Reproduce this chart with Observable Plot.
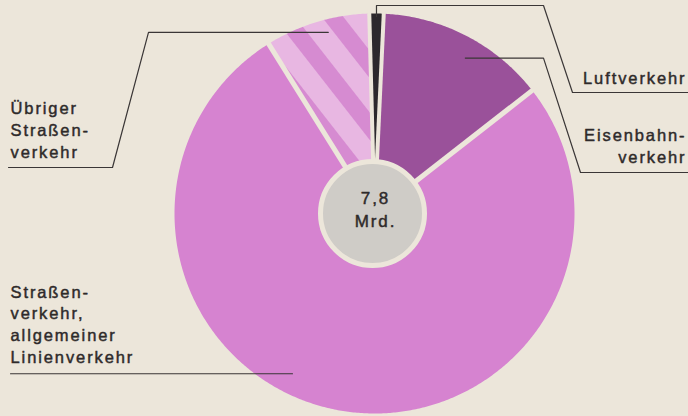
<!DOCTYPE html>
<html><head><meta charset="utf-8">
<script src="https://cdn.jsdelivr.net/npm/d3@7"></script>
<script src="https://cdn.jsdelivr.net/npm/@observablehq/plot@0.6"></script>
<style>
html,body{margin:0;padding:0;background:#ece6da;}
#chart{width:688px;height:416px;overflow:hidden;}
#chart svg text{letter-spacing:1.9px;}
</style></head><body><div id="chart"></div>
<script>
// ---- data ----
const categories = ["Luftverkehr", "Eisenbahnverkehr", "Straßenverkehr, allgemeiner Linienverkehr", "Übriger Straßenverkehr"];
const values = [0.09, 1.07, 5.98, 0.66]; // Mrd. Personen
const totalLabel = "7,8";
const unitLabel = "Mrd.";
const labelLines = [["Luftverkehr"], ["Eisenbahn-", "verkehr"], ["Straßen-", "verkehr,", "allgemeiner", "Linienverkehr"], ["Übriger", "Straßen-", "verkehr"]];

// ---- styling / layout ----
const W = 688, H = 416, cx = 374, cy = 213, R = 200, holeR = 52;
const bg = "#ece6da";
const colors = ["#2c282d", "#9a519a", "#d683d0", "url(#stripes)"];
const startAngle = -1.5;
const textColor = "#2e2a2a";
const lineColor = "#3a3636";
const font = "Liberation Sans, Arial, Helvetica, sans-serif";
const fs = 16.5;

const rad = d => d * Math.PI / 180;
const polar = (deg, r) => ({x: cx + r * Math.sin(rad(deg)), y: cy - r * Math.cos(rad(deg))});

const total = d3.sum(values);
let acc = startAngle;
const slices = categories.map((name, i) => {
  const a0 = acc, a1 = acc + values[i] / total * 360;
  acc = a1;
  return {name, a0, a1, mid: (a0 + a1) / 2, color: colors[i], i};
});

function wedge(s) {
  const pts = [{name: s.name, x: cx, y: cy}];
  const n = Math.max(2, Math.ceil((s.a1 - s.a0) / 0.5));
  for (let k = 0; k <= n; k++) {
    const p = polar(s.a0 + (s.a1 - s.a0) * k / n, R);
    pts.push({name: s.name, ...p});
  }
  pts.push({name: s.name, x: cx, y: cy});
  return pts;
}

// gap lines along the slice boundaries
const gaps = slices.map((s, i) => {
  const p = polar(s.a0, R + 5);
  const thin = i === 0 || i === 1; // edges of the tiny Luftverkehr slice
  return {x1: cx, y1: cy, x2: p.x, y2: p.y, w: thin ? 4 : 5};
});

// leader lines
const leaderSpec = [
  {start: polar(slices[0].mid, 197), rest: s => [[s.x, 5], [543, 5], [572, 92], [688, 92]]},
  {start: polar(30.3, 180), rest: s => [[543, s.y], [580, 172], [688, 172]]},
  {start: polar(207.1, 180), rest: s => [[10, s.y]]},
  {start: polar(-14.3, 187), rest: s => [[148, s.y], [112, 167], [8, 167]]}
];
const leaders = leaderSpec.flatMap((l, i) => [
  {name: categories[i], x: l.start.x, y: l.start.y},
  ...l.rest(l.start).map(([x, y]) => ({name: categories[i], x, y}))
]);

const labelPos = [
  {x: 686, y: 83, anchor: "end"},
  {x: 686, y: 162, anchor: "end"},
  {x: 10, y: 362, anchor: "start"},
  {x: 10, y: 157, anchor: "start"}
];
const labels = categories.map((c, i) => ({text: labelLines[i].join("\n"), ...labelPos[i]}));

const marks = [];
slices.forEach(s => {
  marks.push(Plot.line(wedge(s), {x: "x", y: "y", fill: s.color, stroke: "none", curve: "linear"}));
});
marks.push(Plot.link(gaps, {x1: "x1", y1: "y1", x2: "x2", y2: "y2", stroke: bg, strokeWidth: "w"}));
marks.push(Plot.dot([{x: cx - 2, y: cy}], {x: "x", y: "y", r: holeR, fill: "#cfccc7", stroke: bg, strokeWidth: 5}));
marks.push(Plot.text([totalLabel + "\n" + unitLabel], {x: () => cx + 1, y: () => cy - 5, text: d => d, lineAnchor: "middle", lineHeight: 1.33, fontSize: 17, fontFamily: font, fill: textColor, stroke: textColor, strokeWidth: 0.45, textAnchor: "middle"}));
marks.push(Plot.line(leaders, {x: "x", y: "y", z: "name", stroke: lineColor, strokeWidth: 1.2, curve: "linear"}));
for (const anchor of ["start", "end"]) {
  marks.push(Plot.text(labels.filter(d => d.anchor === anchor), {x: "x", y: "y", text: "text", textAnchor: anchor, lineAnchor: "bottom", lineHeight: 1.31, fontSize: fs, fontFamily: font, fill: textColor, stroke: textColor, strokeWidth: 0.45}));
}

const svg = Plot.plot({
  width: W, height: H, margin: 0,
  x: {domain: [0, W], range: [0, W], axis: null},
  y: {domain: [0, H], range: [0, H], axis: null},
  style: {background: "transparent", overflow: "visible"},
  marks
});

// stripe pattern for "Übriger Straßenverkehr"
const NS = "http://www.w3.org/2000/svg";
const defs = document.createElementNS(NS, "defs");
const pat = document.createElementNS(NS, "pattern");
pat.setAttribute("id", "stripes");
pat.setAttribute("patternUnits", "userSpaceOnUse");
pat.setAttribute("width", "38");
pat.setAttribute("height", "38");
pat.setAttribute("patternTransform", "translate(268,44) rotate(52)");
const r1 = document.createElementNS(NS, "rect");
r1.setAttribute("width", "38"); r1.setAttribute("height", "38"); r1.setAttribute("fill", "#e8b7e2");
const r2 = document.createElementNS(NS, "rect");
r2.setAttribute("width", "38"); r2.setAttribute("height", "17"); r2.setAttribute("fill", "#d68bd1");
pat.appendChild(r1); pat.appendChild(r2); defs.appendChild(pat);
svg.insertBefore(defs, svg.firstChild);

document.getElementById("chart").appendChild(svg);
</script></body></html>
